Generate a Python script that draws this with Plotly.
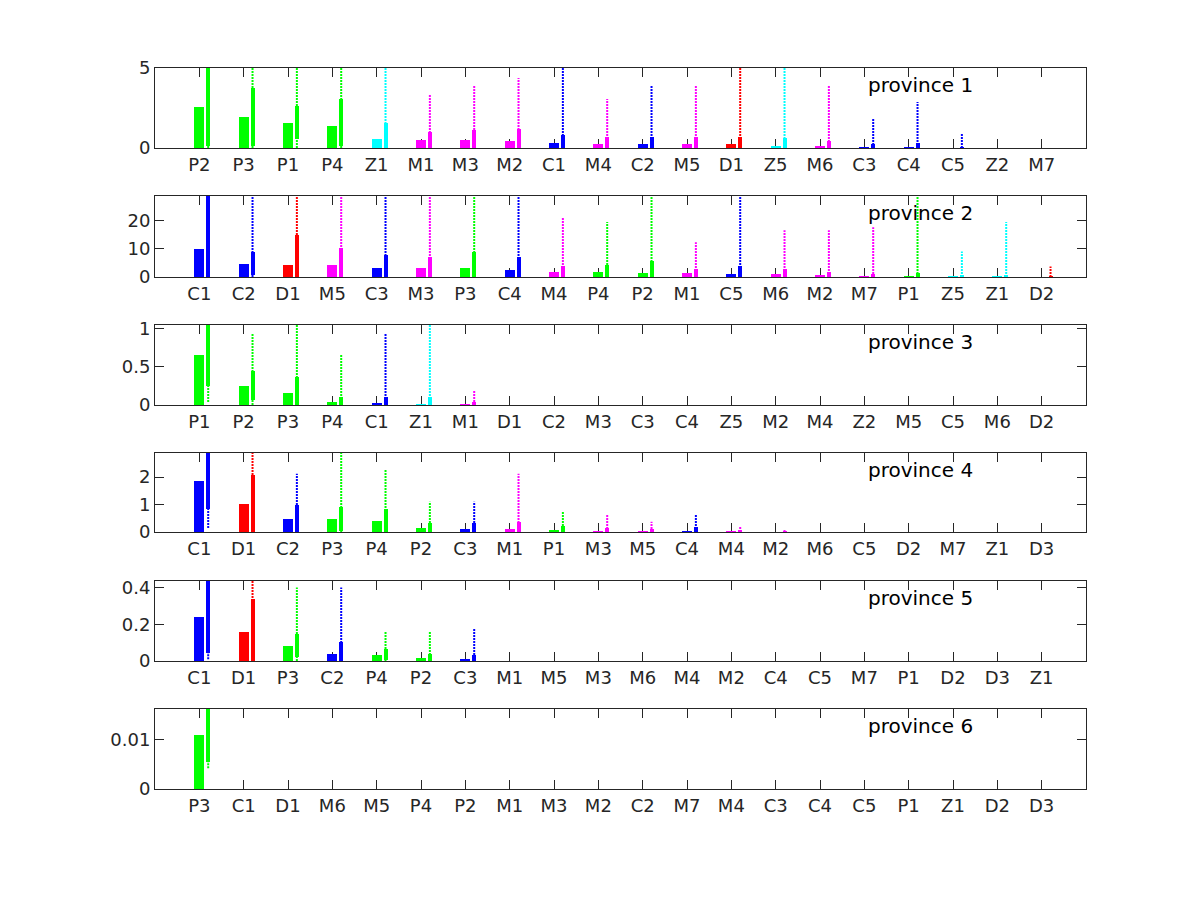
import plotly.graph_objects as go

# ---------------- data ----------------
GREEN, CYAN, MAGENTA, BLUE, RED = "#00ff00", "#00ffff", "#ff00ff", "#0000ff", "#ff0000"
color_of = {"P": GREEN, "Z": CYAN, "M": MAGENTA, "C": BLUE, "D": RED}

p1_cats = ["P2", "P3", "P1", "P4", "Z1", "M1", "M3", "M2", "C1", "M4", "C2", "M5", "D1", "Z5", "M6", "C3", "C4", "C5", "Z2", "M7"]
p1_bar = [2.56, 1.94, 1.56, 1.38, 0.56, 0.5, 0.5, 0.44, 0.31, 0.25, 0.25, 0.25, 0.25, 0.12, 0.12, 0.05, 0.05, 0.0, 0.0, 0.0]
p1_blo = [0.12, 0.12, 0.56, 0.1, 0, 0, 0, 0, 0, 0, 0, 0, 0, 0, 0, 0, 0, 0, 0, 0]
p1_bhi = [5.5, 3.75, 2.62, 3.06, 1.56, 1.0, 1.12, 1.19, 0.81, 0.69, 0.69, 0.69, 0.69, 0.62, 0.44, 0.25, 0.31, 0.03, 0, 0]
p1_wlo = [0, 0, 0, 0, 0, 0, 0, 0, 0, 0, 0, 0, 0, 0, 0, 0, 0, 0, 0, 0]
p1_whi = [8, 6, 6, 6, 6, 3.38, 3.88, 4.38, 6, 3.06, 3.88, 3.88, 6, 6, 3.88, 1.88, 2.88, 0.88, 0, 0]

p2_cats = ["C1", "C2", "D1", "M5", "C3", "M3", "P3", "C4", "M4", "P4", "P2", "M1", "C5", "M6", "M2", "M7", "P1", "Z5", "Z1", "D2"]
p2_bar = [9.75, 4.75, 4.4, 4.4, 3.3, 3.3, 3.3, 2.6, 1.9, 1.9, 1.5, 1.5, 1.2, 1.2, 0.8, 0.1, 0.1, 0.05, 0.05, 0.0]
p2_blo = [0, 0.8, 0, 0, 0, 0, 0, 0, 0, 0, 0, 0, 0, 0, 0, 0, 0, 0, 0, 0]
p2_bhi = [40, 8.7, 14.7, 10.1, 7.6, 7.2, 9.0, 7.2, 4.0, 4.4, 5.8, 3.0, 4.0, 3.0, 1.9, 1.2, 1.5, 0.8, 0.8, 0.3]
p2_wlo = [0, 0, 0, 0, 0, 0, 0, 0, 0, 0, 0, 0, 0, 0, 0, 0, 0, 0, 0, 0]
p2_whi = [60, 40, 35, 35, 40, 35, 35, 40, 20.8, 19.4, 35, 12.3, 40, 16.5, 16.5, 17.6, 35, 9.0, 19.4, 3.7]

p3_cats = ["P1", "P2", "P3", "P4", "C1", "Z1", "M1", "D1", "C2", "M3", "C3", "C4", "Z5", "M2", "M4", "Z2", "M5", "C5", "M6", "D2"]
p3_bar = [0.65, 0.25, 0.16, 0.04, 0.03, 0.01, 0.01, 0, 0, 0, 0, 0, 0, 0, 0, 0, 0, 0, 0, 0]
p3_blo = [0.25, 0.07, 0, 0, 0, 0, 0, 0, 0, 0, 0, 0, 0, 0, 0, 0, 0, 0, 0, 0]
p3_bhi = [1.5, 0.44, 0.37, 0.11, 0.11, 0.11, 0.04, 0, 0, 0, 0, 0, 0, 0, 0, 0, 0, 0, 0, 0]
p3_wlo = [0.04, 0, 0, 0, 0, 0, 0, 0, 0, 0, 0, 0, 0, 0, 0, 0, 0, 0, 0, 0]
p3_whi = [2.0, 0.93, 1.5, 0.66, 0.93, 1.5, 0.19, 0, 0, 0, 0, 0, 0, 0, 0, 0, 0, 0, 0, 0]

p4_cats = ["C1", "D1", "C2", "P3", "P4", "P2", "C3", "M1", "P1", "M3", "M5", "C4", "M4", "M2", "M6", "C5", "D2", "M7", "Z1", "D3"]
p4_bar = [1.87, 1.03, 0.48, 0.48, 0.40, 0.15, 0.11, 0.11, 0.07, 0.02, 0.02, 0.02, 0.02, 0, 0, 0, 0, 0, 0, 0]
p4_blo = [0.84, 0, 0, 0.04, 0, 0, 0, 0, 0, 0, 0, 0, 0, 0, 0, 0, 0, 0, 0, 0]
p4_bhi = [4.0, 2.09, 0.99, 0.92, 0.84, 0.33, 0.33, 0.37, 0.22, 0.15, 0.11, 0.18, 0.07, 0.02, 0, 0, 0, 0, 0, 0]
p4_wlo = [0.15, 0, 0, 0, 0, 0, 0, 0, 0, 0, 0, 0, 0, 0, 0, 0, 0, 0, 0, 0]
p4_whi = [5.0, 4.0, 2.12, 4.0, 2.27, 1.1, 1.1, 2.12, 0.77, 0.62, 0.37, 0.66, 0.22, 0.07, 0, 0, 0, 0, 0, 0]

p5_cats = ["C1", "D1", "P3", "C2", "P4", "P2", "C3", "M1", "M5", "M3", "M6", "M4", "M2", "C4", "C5", "M7", "P1", "D2", "D3", "Z1"]
p5_bar = [0.24, 0.158, 0.082, 0.038, 0.033, 0.016, 0.011, 0, 0, 0, 0, 0, 0, 0, 0, 0, 0, 0, 0, 0]
p5_blo = [0.044, 0, 0.022, 0, 0.005, 0, 0, 0, 0, 0, 0, 0, 0, 0, 0, 0, 0, 0, 0, 0]
p5_bhi = [0.6, 0.338, 0.147, 0.104, 0.065, 0.038, 0.033, 0, 0, 0, 0, 0, 0, 0, 0, 0, 0, 0, 0, 0]
p5_wlo = [0.01, 0, 0, 0, 0, 0, 0, 0, 0, 0, 0, 0, 0, 0, 0, 0, 0, 0, 0, 0]
p5_whi = [0.8, 0.6, 0.40, 0.40, 0.163, 0.163, 0.18, 0, 0, 0, 0, 0, 0, 0, 0, 0, 0, 0, 0, 0]

p6_cats = ["P3", "C1", "D1", "M6", "M5", "P4", "P2", "M1", "M3", "M2", "C2", "M7", "M4", "C3", "C4", "C5", "P1", "Z1", "D2", "D3"]
p6_bar = [0.0109, 0, 0, 0, 0, 0, 0, 0, 0, 0, 0, 0, 0, 0, 0, 0, 0, 0, 0, 0]
p6_blo = [0.0054, 0, 0, 0, 0, 0, 0, 0, 0, 0, 0, 0, 0, 0, 0, 0, 0, 0, 0, 0]
p6_bhi = [0.03, 0, 0, 0, 0, 0, 0, 0, 0, 0, 0, 0, 0, 0, 0, 0, 0, 0, 0, 0]
p6_wlo = [0.0042, 0, 0, 0, 0, 0, 0, 0, 0, 0, 0, 0, 0, 0, 0, 0, 0, 0, 0, 0]
p6_whi = [0.04, 0, 0, 0, 0, 0, 0, 0, 0, 0, 0, 0, 0, 0, 0, 0, 0, 0, 0, 0]

y_ranges = [[0, 5], [0, 28.6], [0, 1.045], [0, 2.88], [0, 0.436], [0, 0.0161]]
y_ticks = [[0, 5], [0, 10, 20], [0, 0.5, 1], [0, 1, 2], [0, 0.2, 0.4], [0, 0.01]]
y_ticktext = [["0", "5"], ["0", "10", "20"], ["0", "0.5", "1"], ["0", "1", "2"], ["0", "0.2", "0.4"], ["0", "0.01"]]
titles = ["province 1", "province 2", "province 3", "province 4", "province 5", "province 6"]

panels = [
    (p1_cats, p1_bar, p1_blo, p1_bhi, p1_wlo, p1_whi),
    (p2_cats, p2_bar, p2_blo, p2_bhi, p2_wlo, p2_whi),
    (p3_cats, p3_bar, p3_blo, p3_bhi, p3_wlo, p3_whi),
    (p4_cats, p4_bar, p4_blo, p4_bhi, p4_wlo, p4_whi),
    (p5_cats, p5_bar, p5_blo, p5_bhi, p5_wlo, p5_whi),
    (p6_cats, p6_bar, p6_blo, p6_bhi, p6_wlo, p6_whi),
]

# ---------------- layout params ----------------
W, H = 1200, 900
PAGE_OFF = 8  # browser body margin
x_left, x_right = 155 - PAGE_OFF, 1086 - PAGE_OFF
tops = [t - PAGE_OFF for t in [68, 196, 325, 453, 581, 709]]
bottoms = [b - PAGE_OFF for b in [148, 277, 405, 532, 661, 789]]
AX = "#262626"
FONT = "DejaVu Sans"

fig = go.Figure()
OFF = 0.2

for k, (cats, bar, blo, bhi, wlo, whi) in enumerate(panels):
    xa = "x" if k == 0 else f"x{k+1}"
    ya = "y" if k == 0 else f"y{k+1}"
    n = len(cats)
    xs = list(range(1, n + 1))
    cols = [color_of[c[0]] for c in cats]
    fig.add_trace(go.Bar(x=xs, y=bar, width=0.225, marker=dict(color=cols, line=dict(width=0)),
                         xaxis=xa, yaxis=ya, showlegend=False))
    for i in range(n):
        if whi[i] > wlo[i]:
            fig.add_trace(go.Scatter(x=[xs[i] + OFF, xs[i] + OFF], y=[wlo[i], whi[i]], mode="lines",
                                     line=dict(color=cols[i], width=2, dash="2px,1px"),
                                     xaxis=xa, yaxis=ya, showlegend=False, hoverinfo="skip"))
    fig.add_trace(go.Bar(x=[v + OFF for v in xs], y=[h - l for h, l in zip(bhi, blo)], base=blo,
                         width=0.09, marker=dict(color=cols, line=dict(width=0)),
                         xaxis=xa, yaxis=ya, showlegend=False))

    ydom = [1 - bottoms[k] / H, 1 - tops[k] / H]
    xdom = [x_left / W, x_right / W]
    axis_common = dict(showline=True, linecolor=AX, linewidth=1, mirror="allticks",
                       ticks="inside", ticklen=9, tickcolor=AX, tickwidth=1,
                       showgrid=False, zeroline=False, automargin=False, layer="below traces",
                       tickfont=dict(family=FONT, size=18, color=AX))
    fig.layout[("xaxis" if k == 0 else f"xaxis{k+1}")] = dict(
        domain=xdom, range=[0, n + 1], tickmode="array", tickvals=xs, ticktext=cats,
        anchor=ya, **axis_common)
    fig.layout[("yaxis" if k == 0 else f"yaxis{k+1}")] = dict(
        domain=ydom, range=y_ranges[k], tickmode="array", tickvals=y_ticks[k],
        ticktext=y_ticktext[k], anchor=xa, **axis_common)
    fig.add_annotation(text=titles[k], xref="paper", yref="paper",
                       x=(866 - PAGE_OFF) / W, y=1 - (tops[k] + 17) / H, xanchor="left", yanchor="middle",
                       showarrow=False, font=dict(family=FONT, size=20, color="black"))

fig.update_layout(width=W, height=H, autosize=False, margin=dict(l=0, r=0, t=0, b=0, autoexpand=False),
                  paper_bgcolor="white", plot_bgcolor="white", barmode="overlay", bargap=0)

fig.write_html("out.html")
